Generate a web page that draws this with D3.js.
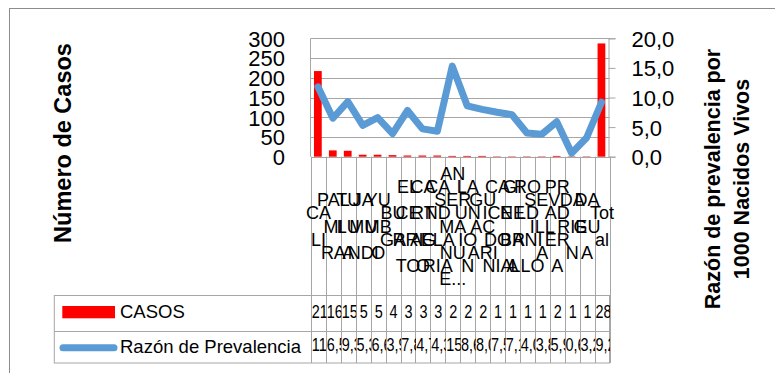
<!DOCTYPE html>
<html><head><meta charset="utf-8">
<script src="https://cdn.jsdelivr.net/npm/d3@7"></script>
<style>
body{margin:0;background:#fff;}
svg{display:block;}
text{font-family:"Liberation Sans",Arial,sans-serif;fill:#000;}
</style>
</head><body>
<svg id="c" width="775" height="373"></svg>
<script>
// ---- data ----
const categories = ["CALI","PALMIRA","TULUA","JAMUNDI","YUMBO","BUGA","EL CERRITO","CARTAGO","CANDELARIA","ANSERMANUEVO","LA UNION","GUACARI","CAICEDONIA","GINEBRA","ROLDANILLO","SEVILLA","PRADERA","DARIEN","DAGUA","Total"];
const categoryLines = [["CA","LI"],["PAL","MI","RA"],["TU","LU","A"],["JA","MU","NDI"],["YU","MB","O"],["BU","GA"],["EL","CE","RRI","TO"],["CA","RT","AG","O"],["CA","ND","ELA","RIA"],["AN","SER","MA","NU","E..."],["LA","UN","IO","N"],["GU","AC","ARI"],["CA","ICE","DO","NIA"],["GI","NE","BR","A"],["RO","LD","ANI","LLO"],["SEV","ILL","A"],["PR","AD","ER","A"],["DA","RIE","N"],["DA","GU","A"],["Tot","al"]];
const casos = [217,16,15,5,5,4,3,3,3,2,2,2,1,1,1,1,2,1,1,287];
const prevalencia = [11.8,6.5,9.3,5.3,6.6,3.9,7.8,4.7,4.3,15.3,8.6,8.0,7.5,7.1,4.0,3.8,5.9,0.6,3.2,9.2];
const leftTicks = [0,50,100,150,200,250,300];
const rightTicks = [0,5,10,15,20];
const seriesNames = ["CASOS","Razón de Prevalencia"];
const leftTitle = "Número de Casos";
const rightTitle = ["Razón de prevalencia por","1000 Nacidos Vivos"];

// ---- layout ----
const svg = d3.select("#c");
const X0 = 311, X1 = 609.5, YT = 38.3, YB = 156.7;
const TBL = {x0:54.3, y0:295, y1:331, y2:363};
const RED = "#FF0000", BLUE = "#5B9BD5", GRID = "#A6A6A6";
const es = d3.formatLocale({decimal:",",thousands:".",grouping:[3],currency:["","€"]});
const f1 = es.format(".1f");

const x = d3.scaleBand().domain(categories).range([X0, X1]).padding(0);
const yL = d3.scaleLinear().domain([0,300]).range([YB, YT]);
const yR = d3.scaleLinear().domain([0,20]).range([YB, YT]);
const bw = x.bandwidth();

// outer frame
svg.append("rect").attr("x",9.5).attr("y",8.5).attr("width",800).attr("height",400)
  .attr("fill","none").attr("stroke","#8c8c8c").attr("stroke-width",1);

// gridlines
svg.append("g").selectAll("line").data(leftTicks).join("line")
  .attr("x1",X0).attr("x2",X1).attr("y1",d=>Math.round(yL(d))+0.5).attr("y2",d=>Math.round(yL(d))+0.5)
  .attr("stroke",GRID).attr("stroke-width",1);
svg.append("line").attr("x1",X0-0.5).attr("x2",X0-0.5).attr("y1",YT).attr("y2",YB).attr("stroke",GRID);

// left axis labels
const gl = svg.append("g").attr("transform",`translate(${X0},0)`)
  .call(d3.axisLeft(yL).tickValues(leftTicks).tickSize(0).tickPadding(26).tickFormat(d3.format("d")));
gl.select(".domain").remove();
gl.selectAll("text").style("font-size","22px").attr("font-family",'"Liberation Sans",Arial,sans-serif').attr("dy","0.36em");

// right axis
const gr = svg.append("g").attr("transform",`translate(${X1-1},0)`)
  .call(d3.axisRight(yR).tickValues(rightTicks).tickSize(7).tickPadding(16).tickFormat(f1));
gr.select(".domain").attr("stroke",GRID);
gr.selectAll(".tick line").attr("stroke",GRID);
gr.selectAll("text").style("font-size","22px").attr("font-family",'"Liberation Sans",Arial,sans-serif').attr("dy","0.36em");

// category separators (through labels and table)
const seps = d3.range(categories.length+1).map(i => X0 + i*bw);
svg.append("g").selectAll("line").data(seps).join("line")
  .attr("x1",d=>Math.round(d)+0.5).attr("x2",d=>Math.round(d)+0.5).attr("y1",YB).attr("y2",TBL.y2)
  .attr("stroke",GRID).attr("stroke-width",1);
svg.append("line").attr("x1",X0).attr("x2",X1).attr("y1",Math.round(YB)+0.5).attr("y2",Math.round(YB)+0.5).attr("stroke",GRID);

// bars
const barW = bw*0.52;
svg.append("g").selectAll("rect").data(casos).join("rect")
  .attr("x",(d,i)=>x(categories[i]) + (bw-barW)/2 - 0.6)
  .attr("width",barW)
  .attr("y",d=>yL(d)).attr("height",d=>YB-yL(d))
  .attr("fill",RED);

// line
const line = d3.line().x((d,i)=>x(categories[i])+bw/2-0.5).y(d=>yR(d));
svg.append("path").datum(prevalencia).attr("d",line)
  .attr("fill","none").attr("stroke",BLUE).attr("stroke-width",7)
  .attr("stroke-linejoin","round").attr("stroke-linecap","round");

// category labels
const LSTEP = 26.25, LCENTER = 226;
const lab = svg.append("g").style("font-size","18px");
categoryLines.forEach((lines,i)=>{
  const cx = x(categories[i]) + bw/2;
  const n = lines.length;
  lines.forEach((s,j)=>{
    lab.append("text").attr("x",cx).attr("y",LCENTER + (j-(n-1)/2)*LSTEP + 6.5)
      .attr("text-anchor","middle").text(s);
  });
});

// titles
svg.append("text").attr("transform",`translate(63,143) rotate(-90)`)
  .attr("text-anchor","middle").attr("dominant-baseline","central")
  .style("font-size","23.5px").style("font-weight","bold").text(leftTitle);
rightTitle.forEach((t,i)=>{
  svg.append("text").attr("transform",`translate(${713+i*29},179) rotate(-90)`)
    .attr("text-anchor","middle").attr("dominant-baseline","central")
    .style("font-size","21.5px").style("font-weight","bold").text(t);
});

// data table
const tb = svg.append("g");
tb.append("rect").attr("x",TBL.x0).attr("y",TBL.y0+0.5).attr("width",X1-TBL.x0).attr("height",TBL.y2-TBL.y0-0.5)
  .attr("fill","none").attr("stroke",GRID);
tb.append("line").attr("x1",TBL.x0).attr("x2",X1).attr("y1",TBL.y1+0.5).attr("y2",TBL.y1+0.5).attr("stroke",GRID);
tb.append("rect").attr("x",62.3).attr("y",306).attr("width",52.7).attr("height",12.3).attr("fill",RED);
tb.append("line").attr("x1",63).attr("x2",114).attr("y1",347.7).attr("y2",347.7)
  .attr("stroke",BLUE).attr("stroke-width",7).attr("stroke-linecap","round");
tb.append("text").attr("x",120).attr("y",318).style("font-size","18.5px").text(seriesNames[0]);
tb.append("text").attr("x",120).attr("y",353).style("font-size","18.5px").text(seriesNames[1]);

// table cells (numbers drawn horizontally condensed, clipped to their cell)
const SX = 0.76;
const defs = svg.append("defs");
const rows = [
  {vals: casos.map(d=>String(d)), y0:TBL.y0, y1:TBL.y1, base:318},
  {vals: prevalencia.map(f1), y0:TBL.y1, y1:TBL.y2, base:351}
];
rows.forEach((r,ri)=>{
  r.vals.forEach((s,i)=>{
    const cx0 = x(categories[i]);
    const id = `clip${ri}_${i}`;
    defs.append("clipPath").attr("id",id).append("rect")
      .attr("x",cx0+0.5).attr("y",r.y0).attr("width",bw).attr("height",r.y1-r.y0);
    const g = tb.append("g").attr("clip-path",`url(#${id})`).append("g");
    const t = g.append("text").attr("x",0).attr("y",0).style("font-size","19px").text(s);
    const w = t.node().getComputedTextLength()*SX;
    if (w <= bw-1) {
      t.attr("text-anchor","middle");
      g.attr("transform",`translate(${cx0+bw/2+0.5},${r.base}) scale(${SX},1)`);
    } else {
      g.attr("transform",`translate(${cx0+0.8},${r.base}) scale(${SX},1)`);
    }
  });
});
</script>
</body></html>
